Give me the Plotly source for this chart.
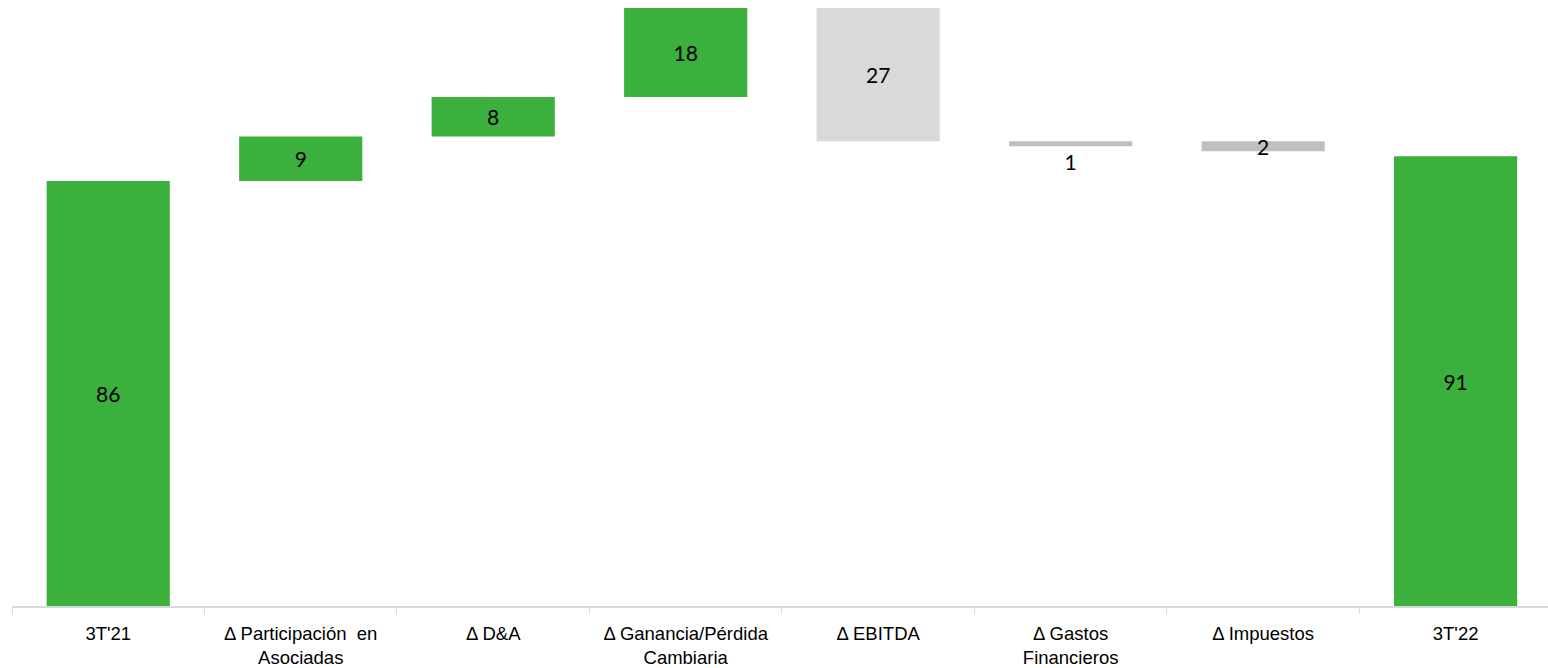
import plotly.graph_objects as go

categories = ["3T'21", "Δ Participación  en<br>Asociadas", "Δ D&A",
              "Δ Ganancia/Pérdida<br>Cambiaria", "Δ EBITDA", "Δ Gastos<br>Financieros",
              "Δ Impuestos", "3T'22"]
# bar heights (signed) and invisible base offsets, as in the source stacked chart
values = [86, 9, 8, 18, -27, -1, -2, 91]
bases = [0, 86, 95, 103, 121, 94, 94, 0]
labels = ["86", "9", "8", "18", "27", "1", "2", "91"]
colors = ["#3CB03C", "#3CB03C", "#3CB03C", "#3CB03C", "#D9D9D9", "#BFBFBF", "#BFBFBF", "#3CB03C"]
label_pos = ["inside", "inside", "inside", "inside", "inside", "outside", "inside", "inside"]

fig = go.Figure()
fig.add_trace(go.Bar(
    x=categories, y=values, base=bases,
    marker=dict(color=colors, line=dict(width=0)),
    text=labels, textposition=label_pos, textangle=0,
    constraintext="none", insidetextanchor="middle", cliponaxis=False,
    textfont=dict(family="Lato, Open Sans, sans-serif", size=21, color="#000000"),
    hoverinfo="skip",
))

fig.update_layout(
    width=1548, height=668,
    margin=dict(l=12, r=0, t=0, b=60),
    paper_bgcolor="white", plot_bgcolor="white",
    bargap=0.36, showlegend=False,
    xaxis=dict(
        range=[-0.5, 7.48],
        showline=True, linecolor="#D9D9D9", linewidth=2,
        ticks="outside", tickson="boundaries", ticklen=6, tickcolor="#D9D9D9", tickwidth=1,
        showgrid=False, ticklabelstandoff=10,
        tickfont=dict(family="Liberation Sans, Arial, sans-serif",
                      size=18.5, color="#000000"),
    ),
    yaxis=dict(range=[0, 122.6], visible=False, showgrid=False, zeroline=False),
)

fig.write_html("out.html")
